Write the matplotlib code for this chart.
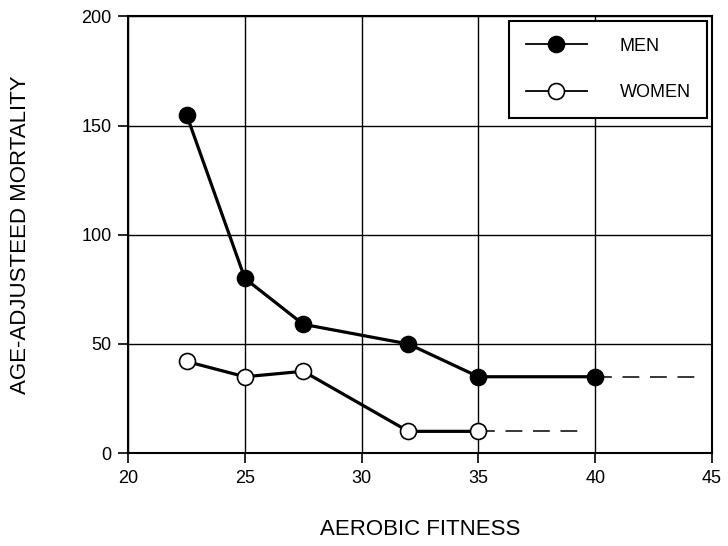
import matplotlib
matplotlib.use("Agg")
import matplotlib.pyplot as plt

plt.rcParams['font.family'] = ['Liberation Sans', 'DejaVu Sans']

# data
men_fitness = [22.5, 25, 27.5, 32, 35, 40]
men_mortality = [155, 80, 59, 50, 35, 35]
men_extrap_fitness = [40, 44.5]
men_extrap_mortality = [35, 35]

women_fitness = [22.5, 25, 27.5, 32, 35]
women_mortality = [42, 35, 37.5, 10, 10]
women_extrap_fitness = [35, 39.5]
women_extrap_mortality = [10, 10]

x_ticks = [20, 25, 30, 35, 40, 45]
y_ticks = [0, 50, 100, 150, 200]

fig = plt.figure(figsize=(7.28, 5.46), dpi=100)
ax = fig.add_axes([0.176, 0.170, 0.802, 0.800])

# dashed extrapolations (drawn first, under the markers)
ax.plot(men_extrap_fitness, men_extrap_mortality, color='black', lw=1.1,
        linestyle=(0, (11, 7)), zorder=2)
ax.plot(women_extrap_fitness, women_extrap_mortality, color='black', lw=1.1,
        linestyle=(0, (11, 7)), zorder=2)

ax.plot(men_fitness, men_mortality, color='black', lw=2.3, marker='o',
        markersize=11.5, markerfacecolor='black', markeredgecolor='black',
        markeredgewidth=1.2, label='MEN', zorder=3)
ax.plot(women_fitness, women_mortality, color='black', lw=2.3, marker='o',
        markersize=11.5, markerfacecolor='white', markeredgecolor='black',
        markeredgewidth=1.2, label='WOMEN', zorder=3)

ax.set_xlim(20, 45)
ax.set_ylim(0, 200)
ax.set_xticks(x_ticks)
ax.set_yticks(y_ticks)
ax.grid(True, color='black', lw=1.0)
ax.set_axisbelow(True)

for s in ax.spines.values():
    s.set_linewidth(1.5)
ax.tick_params(direction='out', length=7, width=1.2, labelsize=13, pad=5)

ax.set_xlabel('AEROBIC FITNESS', fontsize=16, labelpad=23)
ax.set_ylabel('AGE-ADJUSTEED MORTALITY', fontsize=16, labelpad=36)

leg = ax.legend(loc='upper right', bbox_to_anchor=(0.9914, 0.9886), fontsize=13,
                handlelength=3.4, handletextpad=1.8, labelspacing=1.65,
                borderpad=0.9, borderaxespad=0.0, fancybox=False, framealpha=1)
leg.get_frame().set_edgecolor('black')
leg.get_frame().set_linewidth(1.5)
for h in leg.get_lines():
    h.set_linewidth(1.3)

fig.savefig('out.png', dpi=100)
